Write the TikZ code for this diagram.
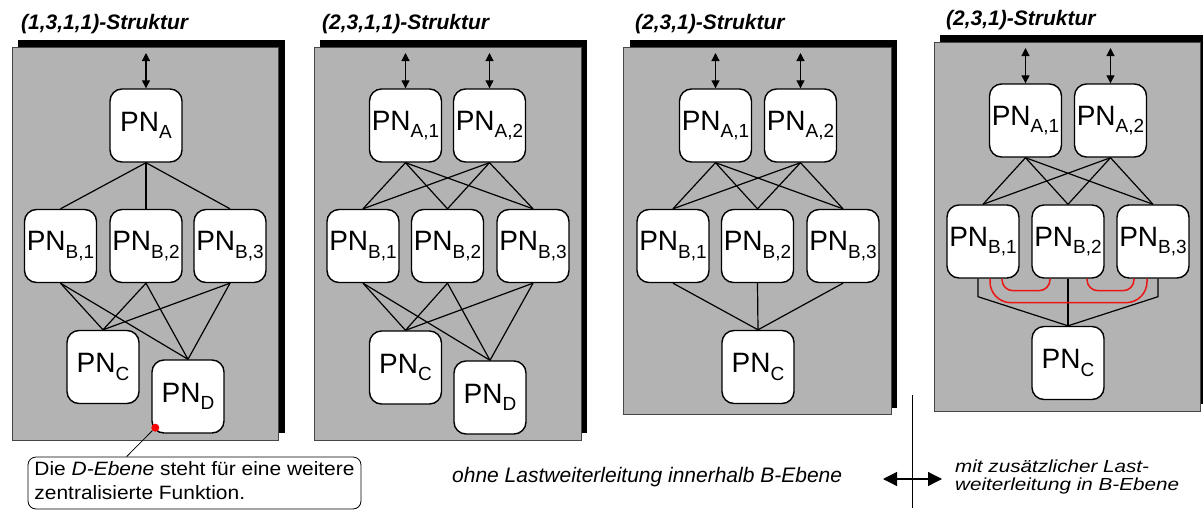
\documentclass[tikz,border=0pt]{standalone}
\usepackage{fontspec}
\setmainfont{Liberation Sans}
\usetikzlibrary{arrows.meta}

\definecolor{panelgray}{RGB}{179,179,179}
\definecolor{panelrim}{RGB}{70,70,70}
\definecolor{linkred}{RGB}{236,20,20}

% processing-node label: "PN" with a lowered, smaller index
\newcommand{\pnlabel}[1]{PN\raisebox{-7.5pt}{\fontsize{19}{19}\selectfont #1}}

\tikzset{
  pnode/.style={draw=black, line width=1.4pt, fill=white, rounded corners=12pt,
    minimum width=72pt, minimum height=73pt, inner sep=0pt,
    font=\fontsize{28}{28}\selectfont},
  link/.style={draw=black, line width=1.2pt},
  io/.style={link, {Triangle[length=8pt,width=8pt]}-{Triangle[length=8pt,width=8pt]}},
  panel/.style={fill=panelgray, draw=panelrim, line width=0.8pt},
  shadowbox/.style={fill=black},
  paneltitle/.style={anchor=base west, inner sep=0pt,
    font=\fontsize{21}{21}\selectfont\bfseries\itshape},
  redlink/.style={draw=linkred, line width=1.5pt},
  note/.style={draw=black, line width=0.8pt, fill=white, rounded corners=8pt,
    minimum width=333pt, minimum height=52pt, inner sep=0pt},
}

\begin{document}
\begin{tikzpicture}[x=1pt, y=-1pt]
\useasboundingbox (0,0) rectangle (1203,512);
\clip (0,0) rectangle (1203,512);
\fill[white] (0,0) rectangle (1203,512);

% ---------- panel backgrounds with drop shadows ----------
\fill[shadowbox] (18,40) rectangle (285,433);
\draw[panel] (12,47) rectangle (278,440);
\fill[shadowbox] (320,40) rectangle (587,433);
\draw[panel] (314,47) rectangle (581,440);
\fill[shadowbox] (630,40) rectangle (897,408);
\draw[panel] (623,47) rectangle (891,414);
\fill[shadowbox] (940,35) rectangle (1207,404);
\draw[panel] (934,42) rectangle (1200,411);

% ---------- titles ----------
\node[paneltitle] (t1) at (21,29) {(1,3,1,1)-Struktur};
\node[paneltitle] (t2) at (322,29) {(2,3,1,1)-Struktur};
\node[paneltitle] (t3) at (635,29) {(2,3,1)-Struktur};
\node[paneltitle] (t4) at (946,25) {(2,3,1)-Struktur};

% ---------- (1,3,1,1) ----------
\node[pnode] (p1a)  at (146,125.5) {\pnlabel{A}};
\node[pnode] (p1b1) at (60.5,246)  {\pnlabel{B,1}};
\node[pnode] (p1b2) at (146,246)   {\pnlabel{B,2}};
\node[pnode] (p1b3) at (230,246)   {\pnlabel{B,3}};
\node[pnode] (p1c)  at (103,367)   {\pnlabel{C}};
\node[pnode] (p1d)  at (188,396.5) {\pnlabel{D}};
\coordinate (p1in) at (146,53);
\draw[io] (p1in) -- (p1a.north);
\foreach \b in {p1b1,p1b2,p1b3} {
  \draw[link] (p1a.south) -- (\b.north);
  \draw[link] (\b.south) -- (p1c.north);
  \draw[link] (\b.south) -- (p1d.north);
}

% ---------- (2,3,1,1) ----------
\node[pnode] (p2a1) at (405.5,125.5) {\pnlabel{A,1}};
\node[pnode] (p2a2) at (489.5,125.5) {\pnlabel{A,2}};
\node[pnode] (p2b1) at (363,246)     {\pnlabel{B,1}};
\node[pnode] (p2b2) at (447.5,246)   {\pnlabel{B,2}};
\node[pnode] (p2b3) at (533,246)     {\pnlabel{B,3}};
\node[pnode] (p2c)  at (405.5,367.5) {\pnlabel{C}};
\node[pnode] (p2d)  at (490,397.5)   {\pnlabel{D}};
\coordinate (p2in1) at (405.5,53);
\coordinate (p2in2) at (489.5,53);
\draw[io] (p2in1) -- (p2a1.north);
\draw[io] (p2in2) -- (p2a2.north);
\foreach \b in {p2b1,p2b2,p2b3} {
  \draw[link] (p2a1.south) -- (\b.north);
  \draw[link] (p2a2.south) -- (\b.north);
  \draw[link] (\b.south) -- (p2c.north);
  \draw[link] (\b.south) -- (p2d.north);
}

% ---------- (2,3,1) ----------
\node[pnode] (p3a1) at (715.5,125.5) {\pnlabel{A,1}};
\node[pnode] (p3a2) at (800.5,125.5) {\pnlabel{A,2}};
\node[pnode] (p3b1) at (673,246)     {\pnlabel{B,1}};
\node[pnode] (p3b2) at (757.5,246)   {\pnlabel{B,2}};
\node[pnode] (p3b3) at (843,246)     {\pnlabel{B,3}};
\node[pnode] (p3c)  at (758,367)     {\pnlabel{C}};
\coordinate (p3in1) at (715.5,53);
\coordinate (p3in2) at (800.5,53);
\draw[io] (p3in1) -- (p3a1.north);
\draw[io] (p3in2) -- (p3a2.north);
\foreach \b in {p3b1,p3b2,p3b3} {
  \draw[link] (p3a1.south) -- (\b.north);
  \draw[link] (p3a2.south) -- (\b.north);
  \draw[link] (\b.south) -- (p3c.north);
}

% ---------- (2,3,1) with load forwarding inside the B level ----------
\node[pnode] (p4a1) at (1025.5,120.5) {\pnlabel{A,1}};
\node[pnode] (p4a2) at (1110.5,120.5) {\pnlabel{A,2}};
\node[pnode] (p4b1) at (983,241.5)    {\pnlabel{B,1}};
\node[pnode] (p4b2) at (1068,241.5)   {\pnlabel{B,2}};
\node[pnode] (p4b3) at (1153,241.5)   {\pnlabel{B,3}};
\node[pnode] (p4c)  at (1068,363)     {\pnlabel{C}};
\coordinate (p4in1) at (1025.5,48);
\coordinate (p4in2) at (1110.5,48);
\draw[io] (p4in1) -- (p4a1.north);
\draw[io] (p4in2) -- (p4a2.north);
\foreach \b in {p4b1,p4b2,p4b3} {
  \draw[link] (p4a1.south) -- (\b.north);
  \draw[link] (p4a2.south) -- (\b.north);
}
\draw[link] ([xshift=-5pt]p4b1.south) -- ++(0,18) -- (p4c.north);
\draw[link] (p4b2.south) -- (p4c.north);
\draw[link] ([xshift=5pt]p4b3.south) -- ++(0,18) -- (p4c.north);
% forwarding paths between B nodes
\draw[redlink, rounded corners=21pt] ([xshift=7pt]p4b1.south) -- ++(0,24) -| ([xshift=-6pt]p4b3.south);
\draw[redlink, rounded corners=11pt] ([xshift=19pt]p4b1.south) -- ++(0,12) -| ([xshift=-18pt]p4b2.south);
\draw[redlink, rounded corners=11pt] ([xshift=19pt]p4b2.south) -- ++(0,12) -| ([xshift=-19pt]p4b3.south);

% ---------- remark on the D level ----------
\node[note, font=\fontsize{19.3}{24}\selectfont] (remark) at (194.5,483)
  {\scalebox{1.085}[1]{\begin{tabular}{@{}l@{}}Die \textit{D-Ebene} steht für eine weitere\\zentralisierte Funktion.\end{tabular}}};
\node[circle, fill=red, inner sep=0pt, minimum size=8pt] (mark) at ([xshift=4pt,yshift=6pt]p1d.south west) {};
\draw[line width=0.8pt] (mark) -- ([xshift=99pt]remark.north west);

% ---------- bottom captions ----------
\node[anchor=base west, inner sep=0pt, font=\fontsize{21}{21}\selectfont\itshape] (without)
  at (452,482) {ohne Lastweiterleitung innerhalb B-Ebene};
\node[anchor=base west, inner sep=0pt, font=\fontsize{17.5}{18.5}\selectfont\itshape] (with)
  at (955,472) {\scalebox{1.18}[1]{\begin{tabular}[t]{@{}l@{}}mit zusätzlicher Last-\\weiterleitung in B-Ebene\end{tabular}}};

\coordinate (septop) at (912,395);
\coordinate (sepbot) at (912,508);
\draw[line width=0.9pt] (septop) -- (sepbot);
\coordinate (arrl) at (883,479);
\coordinate (arrr) at (942,479);
\draw[line width=1.2pt, {Triangle[length=14pt,width=14pt]}-{Triangle[length=14pt,width=14pt]}] (arrl) -- (arrr);
\end{tikzpicture}
\end{document}
